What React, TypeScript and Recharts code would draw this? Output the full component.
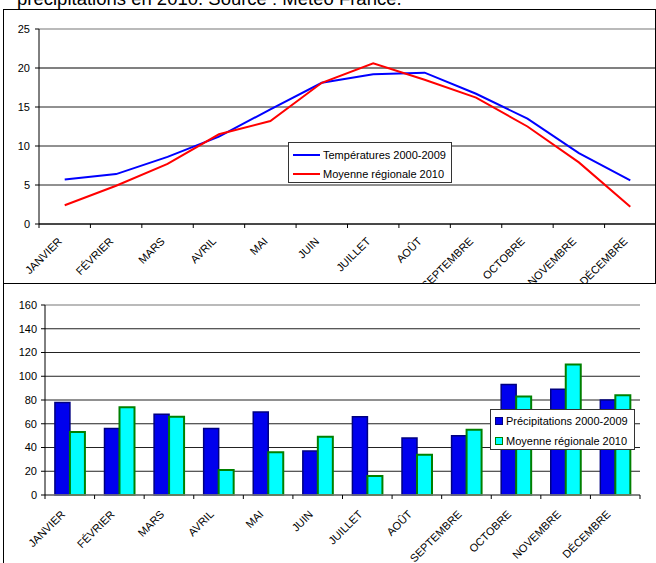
import React from 'react';
import {
  LineChart,
  Line,
  BarChart,
  Bar,
  XAxis,
  YAxis,
  CartesianGrid,
  ReferenceLine,
  Legend,
} from 'recharts';

const titleText = 'précipitations en 2010. Source : Météo France.';
const months = [
  'JANVIER', 'FÉVRIER', 'MARS', 'AVRIL', 'MAI', 'JUIN',
  'JUILLET', 'AOÛT', 'SEPTEMBRE', 'OCTOBRE', 'NOVEMBRE', 'DÉCEMBRE',
];
const temp20002009 = [5.7, 6.4, 8.6, 11.2, 14.7, 18.1, 19.2, 19.4, 16.7, 13.5, 9.1, 5.6];
const temp2010 = [2.4, 4.9, 7.7, 11.5, 13.2, 18.1, 20.6, 18.5, 16.2, 12.5, 7.9, 2.2];
const precip20002009 = [78, 56, 68, 56, 70, 37, 66, 48, 50, 93, 89, 80];
const precip2010 = [53, 74, 66, 21, 36, 49, 16, 34, 55, 83, 110, 84];
const tempTicks = [0, 5, 10, 15, 20, 25];
const precipTicks = [0, 20, 40, 60, 80, 100, 120, 140, 160];
const tempNames = ['Températures 2000-2009', 'Moyenne régionale 2010'];
const precipNames = ['Précipitations 2000-2009', 'Moyenne régionale 2010'];

const tempData = months.map((m, i) => ({ month: m, a: temp20002009[i], b: temp2010[i] }));
const precipData = months.map((m, i) => ({ month: m, a: precip20002009[i], b: precip2010[i] }));

const FONT = '"Liberation Sans", Arial, sans-serif';
const W = 656;

// top chart geometry
const TOP_H = 283;
const TOP_MARGIN = { top: 29, right: 0, left: 0, bottom: 0 };
const TOP_YW = 39;
const TOP_XH = 59;
const TOP_STEP = (W - TOP_YW - TOP_MARGIN.right) / months.length;

// bottom chart geometry
const BOT_H = 280;
const BOT_MARGIN = { top: 22, right: 16, left: 0, bottom: 0 };
const BOT_YW = 45;
const BOT_XH = 68;
const BOT_STEP = (W - BOT_YW - BOT_MARGIN.right) / months.length;

function MonthTick(props: any) {
  const { x, y, payload, index, step, count, tickColor, dx, dy } = props;
  const lx = x - step / 2;
  const tx = x + dx;
  const ty = y + dy;
  return (
    <g>
      <line x1={lx} y1={y} x2={lx} y2={y + 4} stroke={tickColor} strokeWidth={1} />
      {index === count - 1 && (
        <line x1={x + step / 2} y1={y} x2={x + step / 2} y2={y + 4} stroke={tickColor} strokeWidth={1} />
      )}
      <text
        x={tx}
        y={ty}
        transform={`rotate(-45 ${tx} ${ty})`}
        textAnchor="end"
        fontSize={11}
        fontFamily={FONT}
        fill="#000"
      >
        {payload.value}
      </text>
    </g>
  );
}

function TopLegend() {
  const colors = ['#0000ff', '#ff0000'];
  return (
    <div
      style={{
        boxSizing: 'border-box',
        width: 164,
        height: 41,
        border: '1px solid #333',
        background: '#fff',
        fontFamily: FONT,
        fontSize: 11,
        color: '#000',
        paddingTop: 3,
      }}
    >
      {tempNames.map((n, i) => (
        <div key={n} style={{ display: 'flex', alignItems: 'center', height: 17, marginTop: i ? 2 : 0 }}>
          <span style={{ display: 'inline-block', width: 27, height: 2, background: colors[i], marginLeft: 4, marginRight: 3 }} />
          <span>{n}</span>
        </div>
      ))}
    </div>
  );
}

function BottomLegend() {
  const fills = ['#0000ee', '#00ffff'];
  const strokes = ['#000080', '#008000'];
  return (
    <div
      style={{
        boxSizing: 'border-box',
        width: 145,
        height: 41,
        border: '1px solid #333',
        background: '#fff',
        fontFamily: FONT,
        fontSize: 11,
        color: '#000',
        paddingTop: 2,
      }}
    >
      {precipNames.map((n, i) => (
        <div key={n} style={{ display: 'flex', alignItems: 'center', height: 17, marginTop: i ? 3 : 0 }}>
          <span
            style={{
              display: 'inline-block',
              boxSizing: 'border-box',
              width: 8,
              height: 8,
              background: fills[i],
              border: `1.5px solid ${strokes[i]}`,
              marginLeft: 4,
              marginRight: 3,
            }}
          />
          <span>{n}</span>
        </div>
      ))}
    </div>
  );
}

export default function App() {
  return (
    <div
      style={{
        position: 'absolute',
        left: 0,
        top: 0,
        width: W,
        height: 563,
        overflow: 'hidden',
        background: '#fff',
        fontFamily: FONT,
      }}
    >
      <svg width={W} height={12} style={{ position: 'absolute', left: 0, top: 0 }}>
        <text x={17} y={5} fontSize={18.5} fontFamily={FONT} fill="#000">
          {titleText}
        </text>
      </svg>

      <div style={{ position: 'absolute', left: 0, top: 0 }}>
        <LineChart width={W} height={TOP_H} data={tempData} margin={TOP_MARGIN}>
          <CartesianGrid vertical={false} stroke="#222" strokeWidth={1} />
          <ReferenceLine y={25} stroke="#c8c8c8" strokeWidth={1.5} />
          <ReferenceLine y={20} stroke="#808080" strokeWidth={2} />
          <XAxis
            dataKey="month"
            interval={0}
            height={TOP_XH}
            padding={{ left: TOP_STEP / 2, right: TOP_STEP / 2 }}
            tickSize={0}
            tickMargin={0}
            tickLine={false}
            axisLine={{ stroke: '#000', strokeWidth: 1 }}
            tick={(p: any) => (
              <MonthTick {...p} step={TOP_STEP} count={months.length} tickColor="#000" dx={-2} dy={18} />
            )}
          />
          <YAxis
            width={TOP_YW}
            domain={[0, 25]}
            ticks={tempTicks}
            interval={0}
            tickSize={4}
            tickMargin={5}
            axisLine={{ stroke: '#000' }}
            tickLine={{ stroke: '#000' }}
            tick={{ fontSize: 11, fill: '#000', fontFamily: FONT }}
          />
          <Line
            type="linear"
            dataKey="a"
            name={tempNames[0]}
            stroke="#0000ff"
            strokeWidth={2}
            dot={false}
            isAnimationActive={false}
          />
          <Line
            type="linear"
            dataKey="b"
            name={tempNames[1]}
            stroke="#ff0000"
            strokeWidth={2}
            dot={false}
            isAnimationActive={false}
          />
          <Legend
            layout="vertical"
            align="center"
            verticalAlign="middle"
            wrapperStyle={{ left: 288, top: 142, width: 164, height: 41 }}
            content={() => <TopLegend />}
          />
        </LineChart>
      </div>

      <div style={{ position: 'absolute', left: 0, top: 283 }}>
        <BarChart
          width={W}
          height={BOT_H}
          data={precipData}
          margin={BOT_MARGIN}
          barCategoryGap="20%"
          barGap={0}
        >
          <CartesianGrid vertical={false} stroke="#222" strokeWidth={1} />
          <ReferenceLine y={160} stroke="#c8c8c8" strokeWidth={1.5} />
          <XAxis
            dataKey="month"
            interval={0}
            height={BOT_XH}
            tickSize={0}
            tickMargin={0}
            tickLine={false}
            axisLine={{ stroke: '#808080', strokeWidth: 1.5 }}
            tick={(p: any) => (
              <MonthTick {...p} step={BOT_STEP} count={months.length} tickColor="#000" dx={-4} dy={20} />
            )}
          />
          <YAxis
            width={BOT_YW}
            domain={[0, 160]}
            ticks={precipTicks}
            interval={0}
            tickSize={4}
            tickMargin={4}
            axisLine={{ stroke: '#000' }}
            tickLine={{ stroke: '#000' }}
            tick={{ fontSize: 11, fill: '#000', fontFamily: FONT }}
          />
          <Bar
            dataKey="a"
            name={precipNames[0]}
            fill="#0000ee"
            stroke="#000080"
            strokeWidth={1.5}
            isAnimationActive={false}
          />
          <Bar
            dataKey="b"
            name={precipNames[1]}
            fill="#00ffff"
            stroke="#008000"
            strokeWidth={2}
            isAnimationActive={false}
          />
          <Legend
            layout="vertical"
            align="center"
            verticalAlign="middle"
            wrapperStyle={{ left: 490, top: 126, width: 145, height: 41 }}
            content={() => <BottomLegend />}
          />
        </BarChart>
      </div>

      <div
        style={{
          position: 'absolute',
          left: 3,
          top: 9,
          width: 653,
          height: 275,
          boxSizing: 'border-box',
          border: '1px solid #000',
          pointerEvents: 'none',
        }}
      />
      <div
        style={{
          position: 'absolute',
          left: 3,
          top: 283,
          width: 700,
          height: 300,
          boxSizing: 'border-box',
          border: '1px solid #000',
          pointerEvents: 'none',
        }}
      />
    </div>
  );
}
